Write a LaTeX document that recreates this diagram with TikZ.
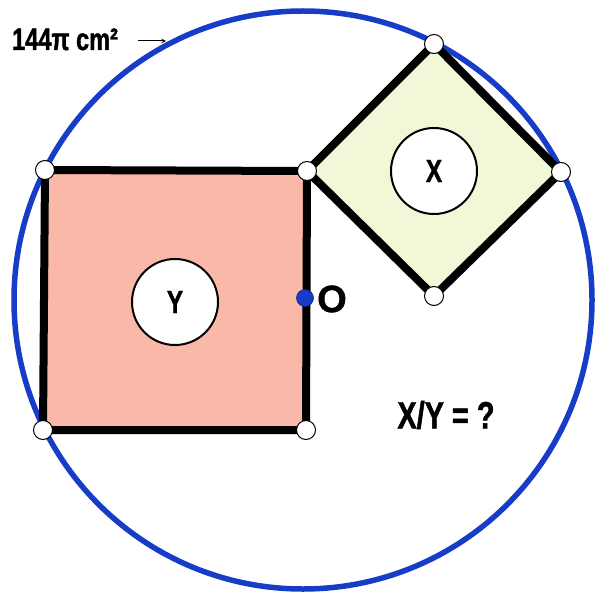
\documentclass[tikz,border=0pt]{standalone}
\usepackage{fontspec}
\newfontfamily\cond{Liberation Sans Bold}[FakeStretch=0.76,FakeBold=1.3]
\newfontfamily\plain{Liberation Sans Bold}[FakeBold=1]
\definecolor{ringblue}{RGB}{22,60,200}
\definecolor{salmon}{RGB}{250,185,168}
\definecolor{paleg}{RGB}{241,248,216}
\begin{document}
\begin{tikzpicture}[x=1pt,y=-1pt,
  sq/.style={line width=8pt,line join=miter},
  vdot/.style={circle,draw=black,line width=1pt,fill=white,minimum size=19pt,inner sep=0pt},
  lbl/.style={circle,draw=black,line width=2pt,fill=white,minimum size=86pt,inner sep=0pt,font=\cond\fontsize{32}{32}\selectfont},
  txt/.style={inner sep=0pt,font=\cond\fontsize{38}{38}\selectfont}]
\useasboundingbox (0,0) rectangle (607,604);
\fill[white] (0,0) rectangle (607,604);
% big circle
\node[circle,draw=ringblue,line width=5.5pt,minimum size=578pt,inner sep=0pt] (ring) at (303,300) {};
% vertices
\coordinate (ya) at (45,170);
\coordinate (yb) at (307,171);
\coordinate (yc) at (306,430);
\coordinate (yd) at (43,430);
\coordinate (xa) at (434,44);
\coordinate (xb) at (561,172);
\coordinate (xc) at (434,296);
% squares
\draw[sq,fill=salmon] (ya) -- (yb) -- (yc) -- (yd) -- cycle;
\draw[sq,fill=paleg] (yb) -- (xa) -- (xb) -- (xc) -- cycle;
% inner circles
\node[lbl] (Y) at (175,302) {Y};
\node[lbl] (X) at (434,171) {X};
% vertex dots
\foreach \p in {ya,yb,yc,yd,xa,xb,xc} \node[vdot] (d\p) at (\p) {};
% centre O
\node[circle,fill=ringblue,draw=ringblue!60!black,line width=0.6pt,minimum size=17pt,inner sep=0pt] (O) at (305,298) {};
\node[anchor=west,inner sep=0pt,font=\plain\fontsize{38}{38}\selectfont] (Olbl) at (317,299) {O};
% ratio text
\node[txt] (q) at (446,415) {X/Y = ?};
% area label
\node[anchor=base west,inner sep=0pt,font=\cond\fontsize{31}{31}\selectfont] (area) at (12,50) {144π cm²};
\coordinate (a1) at (138,41);
\coordinate (a2) at (166,41);
\draw[->,line width=1pt,>=stealth] (a1) -- (a2);
\end{tikzpicture}
\end{document}
